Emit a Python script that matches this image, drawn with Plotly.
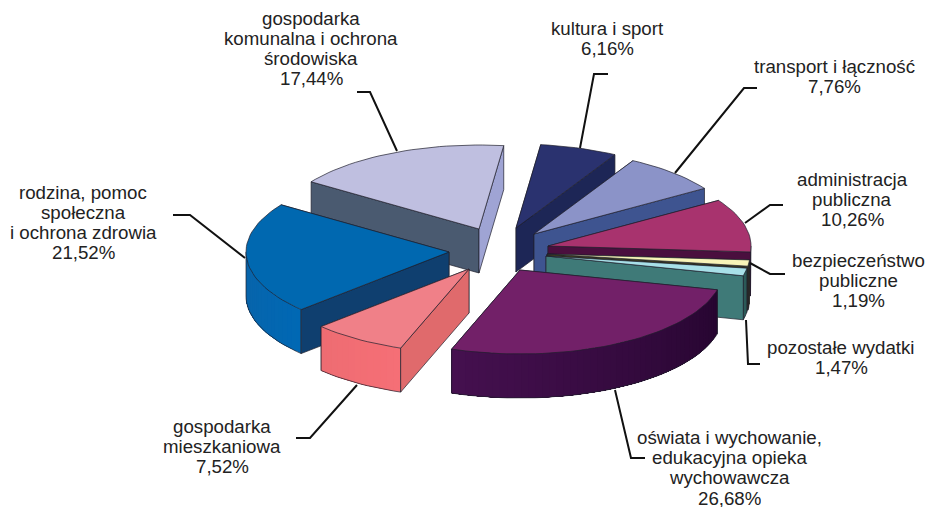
import math
import plotly.graph_objects as go

# ---- data (clockwise from the first slice) ----
categories = [
    "kultura i sport",
    "transport i łączność",
    "administracja\npubliczna",
    "bezpieczeństwo\npubliczne",
    "pozostałe wydatki",
    "oświata i wychowanie,\nedukacyjna opieka\nwychowawcza",
    "gospodarka\nmieszkaniowa",
    "rodzina, pomoc\nspołeczna\ni ochrona zdrowia",
    "gospodarka\nkomunalna i ochrona\nśrodowiska",
]
values = [6.16, 7.76, 10.26, 1.19, 1.47, 26.68, 7.52, 21.52, 17.44]

# ---- styling / layout ----
START_ANGLE = 7.0
RX, RY, DEPTH = 203, 84, 44
apex = [(516, 228), (534, 234), (548, 246), (547, 254), (546, 256),
        (520, 270), (469, 269), (449, 252), (479, 229)]
top_col = ["#2a326f", "#8b93c8", "#a8336e", "#f8f4b8", "#a8e0e8",
           "#722068", "#f08088", "#0068b0", "#bfbfe0"]
start_face = ["#1d2656", "#3e5490", "#4a0f3e", "#3a3a20", "#3f7a78",
              "#260530", "#e06a6c", "#0f3f6f", "#4a5a70"]
end_face = ["#1d2656", "#3e5490", "#4a0f3e", "#3a3a20", "#3f7a78",
            "#260530", "#e06a6c", "#0f3f6f", "#9fa4d4"]
arc_cols = [("#1d2656", "#1d2656"), ("#3e5490", "#3e5490"), ("#4a0f3e", "#4a0f3e"),
            ("#3a3a20", "#3a3a20"), ("#2c5a58", "#2c5a58"), ("#260530", "#45104f"),
            ("#f56f76", "#ee6c72"), ("#0068b4", "#0a63a8"), ("#4a5a70", "#4a5a70")]
draw_order = [8, 0, 1, 2, 3, 4, 7, 6, 5]
label_pos = [(607, 28), (834, 66), (852, 179), (858, 260), (841, 347),
             (729, 437), (222, 426), (83, 192), (311, 18)]
LINE_STEP = 20
PAGE_H = 507
leaders = [
    ([608, 594, 580], [74, 74, 148]),
    ([757, 744, 675], [88, 88, 173]),
    ([783, 770, 745], [205, 205, 223]),
    ([785, 770, 750], [274, 274, 263]),
    ([760, 748, 746], [364, 364, 320]),
    ([645, 631, 615], [458, 458, 390]),
    ([296, 310, 357], [438, 438, 385]),
    ([173, 190, 245], [215, 215, 258]),
    ([357, 370, 397], [92, 92, 151]),
]
EDGE = "#20202c"


def hex2rgb(h):
    return tuple(int(h[i:i + 2], 16) for i in (1, 3, 5))


def mix(a, b, t):
    ca, cb = hex2rgb(a), hex2rgb(b)
    return "rgb(%d,%d,%d)" % tuple(round(x + (y - x) * t) for x, y in zip(ca, cb))


def rim(c, deg, dz=0):
    r = math.radians(deg)
    return c[0] + RX * math.sin(r), c[1] - RY * math.cos(r) + dz


fig = go.Figure()


def poly(xs, ys, fill, edge=EDGE, width=0.7):
    fig.add_trace(go.Scatter(
        x=list(xs) + [xs[0]], y=list(ys) + [ys[0]], mode="lines", fill="toself",
        fillcolor=fill, line=dict(color=edge if edge else fill, width=width),
        hoverinfo="skip", showlegend=False))


# slice angles follow from the values
total = sum(values)
angles = []
a = START_ANGLE
for v in values:
    angles.append((a, a + v / total * 360))
    a += v / total * 360

for i in draw_order:
    c, (a1, a2) = apex[i], angles[i]
    s1, s2 = math.sin(math.radians(a1)), math.sin(math.radians(a2))

    def radial(deg, col):
        p = rim(c, deg)
        poly([c[0], p[0], p[0], c[0]], [c[1], p[1], p[1] + DEPTH, c[1] + DEPTH], col)

    # hidden faces first, so that they never paint over visible ones
    if s1 >= 0:
        radial(a1, start_face[i])
    if s2 <= 0:
        radial(a2, end_face[i])

    # rim wall, only where it faces the viewer; each band runs on to the end of
    # the wall and the next band paints over it, so that no seams appear
    lo, hi = max(a1, 90), min(a2, 270)
    if hi > lo:
        n = max(2, int((hi - lo) / 2))
        step = (hi - lo) / n
        for k in range(n):
            deg = [lo + k * step + j * (hi - lo - k * step) / 24 for j in range(25)]
            up = [rim(c, d) for d in deg]
            dn = [rim(c, d, DEPTH) for d in reversed(deg)]
            poly([p[0] for p in up + dn], [p[1] for p in up + dn],
                 mix(arc_cols[i][0], arc_cols[i][1], (k + .5) / n), edge=None, width=0)
        deg = [lo + k * step for k in range(n + 1)]
        outline = [rim(c, lo)] + [rim(c, d, DEPTH) for d in deg] + [rim(c, hi)]
        fig.add_trace(go.Scatter(
            x=[p[0] for p in outline], y=[p[1] for p in outline], mode="lines",
            line=dict(color=EDGE, width=0.7), hoverinfo="skip", showlegend=False))

    if s1 < 0:
        radial(a1, start_face[i])
    if s2 > 0:
        radial(a2, end_face[i])

    # top face
    n = max(3, int((a2 - a1) / 2))
    pts = [rim(c, a1 + (a2 - a1) * k / n) for k in range(n + 1)]
    poly([c[0]] + [p[0] for p in pts], [c[1]] + [p[1] for p in pts], top_col[i])

for lx, ly in leaders:
    fig.add_trace(go.Scatter(x=lx, y=ly, mode="lines",
                             line=dict(color="#111111", width=2),
                             hoverinfo="skip", showlegend=False))

annotations = []
for name, val, (x, y) in zip(categories, values, label_pos):
    lines = name.split("\n") + [f"{val:.2f}".replace(".", ",") + "%"]
    for k, text in enumerate(lines):
        ann = dict(
            x=x, y=y + k * LINE_STEP, text=text, showarrow=False, xanchor="center",
            yanchor="middle",
            font=dict(family="Liberation Sans", size=18.7, color="#222222"))
        # the lowest line sits against the page edge: keep its box inside the page
        if ann["y"] + 12 > PAGE_H:
            ann["y"] = PAGE_H - 9
            ann["height"] = 18
        annotations.append(ann)

fig.update_layout(
    width=926, height=PAGE_H, margin=dict(l=0, r=0, t=0, b=0),
    paper_bgcolor="white", plot_bgcolor="white", annotations=annotations,
    xaxis=dict(range=[0, 926], visible=False, fixedrange=True),
    yaxis=dict(range=[PAGE_H, 0], visible=False, fixedrange=True),
    showlegend=False)
fig.write_html("out.html", config=dict(displayModeBar=False),
               post_script="document.body.style.margin='0';document.body.style.overflow='hidden';")
